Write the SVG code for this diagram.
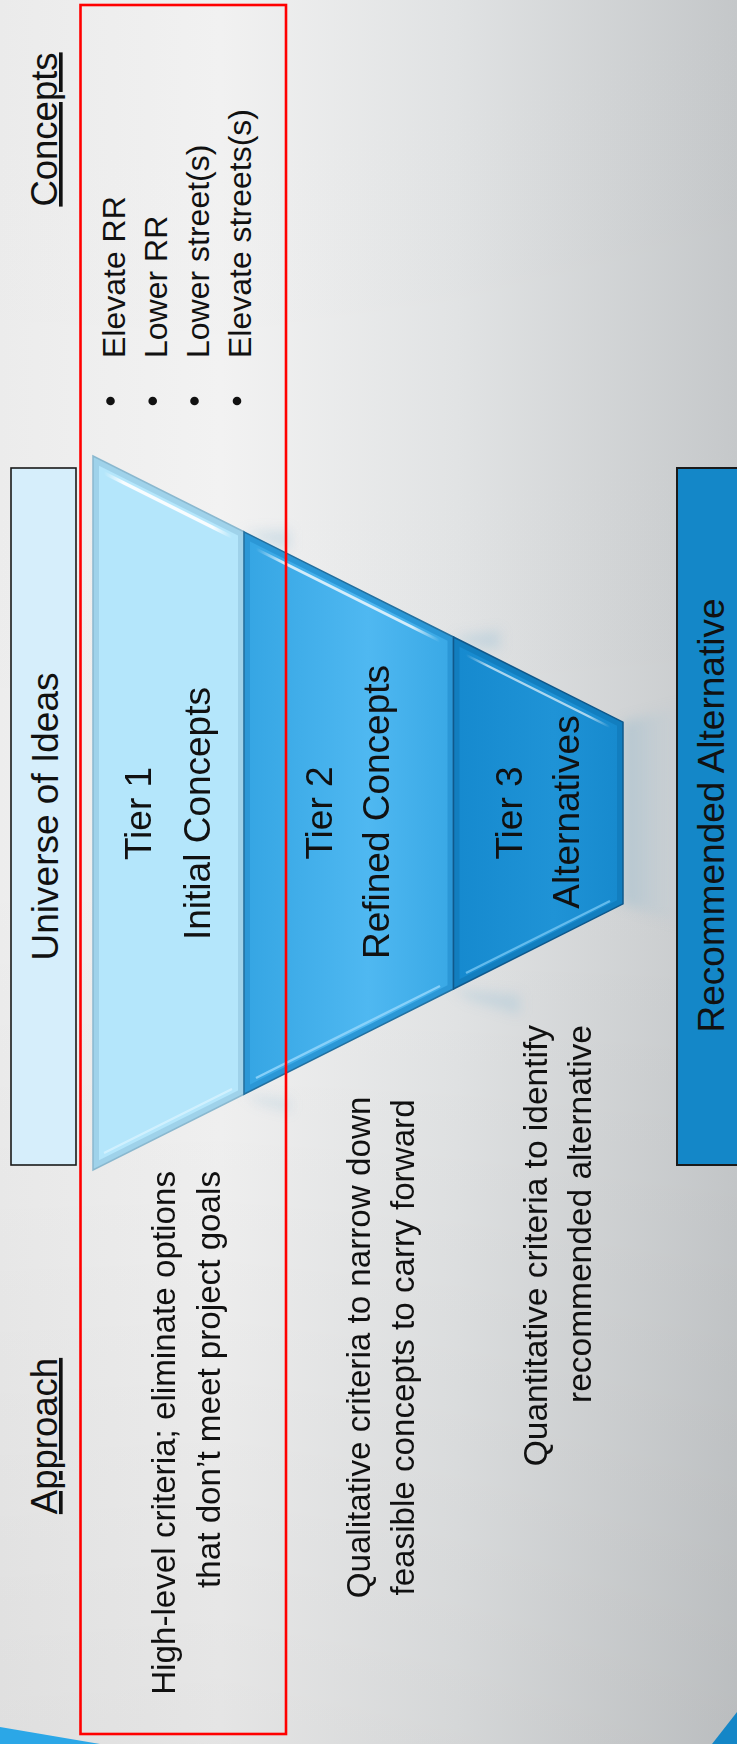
<svg xmlns="http://www.w3.org/2000/svg" width="737" height="1744" viewBox="0 0 737 1744">
<style>
text{font-family:"Liberation Sans",Arial,sans-serif;fill:#111}
.hdr{font-size:36.5px;text-decoration:underline}
.box{font-size:37px}
.tier{font-size:37px}
.bul{font-size:32px}
.app{font-size:33.2px}
.app2{font-size:33.5px}
</style>
<defs>
<linearGradient id="bgH" x1="0" y1="0" x2="737" y2="0" gradientUnits="userSpaceOnUse">
<stop offset="0" stop-color="#ededed"/>
<stop offset="0.3" stop-color="#f3f3f3"/>
<stop offset="0.62" stop-color="#e2e4e5"/>
<stop offset="1" stop-color="#c6c9cb"/>
</linearGradient>
<linearGradient id="bgV" x1="0" y1="0" x2="0" y2="1744" gradientUnits="userSpaceOnUse">
<stop offset="0" stop-color="#000" stop-opacity="0.01"/>
<stop offset="0.5" stop-color="#000" stop-opacity="0"/>
<stop offset="1" stop-color="#000" stop-opacity="0.06"/>
</linearGradient>
<linearGradient id="t2g" x1="0" y1="0" x2="1" y2="0">
<stop offset="0" stop-color="#36a6e4"/>
<stop offset="0.6" stop-color="#4fb8f1"/>
<stop offset="1" stop-color="#3aa9e6"/>
</linearGradient>
<linearGradient id="t3g" x1="0" y1="0" x2="1" y2="0">
<stop offset="0" stop-color="#168acf"/>
<stop offset="0.6" stop-color="#1f93d6"/>
<stop offset="1" stop-color="#178ace"/>
</linearGradient>
<linearGradient id="hl" x1="0" y1="0" x2="1" y2="0">
<stop offset="0" stop-color="#fff" stop-opacity="0"/>
<stop offset="0.15" stop-color="#fff" stop-opacity="0.9"/>
<stop offset="0.85" stop-color="#fff" stop-opacity="0.9"/>
<stop offset="1" stop-color="#fff" stop-opacity="0"/>
</linearGradient>
<linearGradient id="haze" x1="0" y1="0" x2="1" y2="0">
<stop offset="0" stop-color="#8fb6cc" stop-opacity="0.45"/>
<stop offset="1" stop-color="#c9d3d8" stop-opacity="0"/>
</linearGradient>
<filter id="blur" x="-50%" y="-50%" width="200%" height="200%"><feGaussianBlur stdDeviation="6"/></filter>
</defs>

<g id="background">
<rect x="0" y="0" width="737" height="1744" fill="url(#bgH)"/>
<rect x="0" y="0" width="737" height="1744" fill="url(#bgV)"/>
<polygon points="0,1727 100,1744 0,1744" fill="#2ba7e7"/>
<polygon points="737,1712 712,1744 737,1744" fill="#1486c7"/>
</g>

<g id="shadows" filter="url(#blur)">
<polygon points="623,722 700,700 700,930 623,904" fill="url(#haze)"/>
<polygon points="453,637 500,630 500,650 470,646" fill="#9fc3d6" opacity="0.4"/>
<polygon points="453,989 520,995 520,1015 470,1000" fill="#9fc3d6" opacity="0.35"/>
<polygon points="244,532 290,530 290,552 260,540" fill="#9fc3d6" opacity="0.35"/>
<polygon points="244,1094 290,1100 290,1112 260,1104" fill="#9fc3d6" opacity="0.3"/>
</g>

<g id="tier1">
<polygon points="93,456 244,531.8 244,1094.2 93,1170" fill="#9fd2ea" stroke="#8ab8cf" stroke-width="1.5"/>
<polygon points="99,465.7 238,535.5 238,1090.5 99,1160.3" fill="#b4e6fb"/>
<line x1="104" y1="473" x2="232" y2="537" stroke="url(#hl)" stroke-width="3.5" stroke-linecap="round"/>
<line x1="104" y1="1153" x2="232" y2="1089" stroke="#d8f3ff" stroke-width="2" opacity="0.8"/>
<text class="tier" transform="translate(151,813.5) rotate(-90)" text-anchor="middle">Tier 1</text>
<text class="tier" transform="translate(210,813.5) rotate(-90)" text-anchor="middle">Initial Concepts</text>
</g>

<g id="tier2">
<polygon points="244,531.8 453.5,637 453.5,989 244,1094.2" fill="#2b97d6" stroke="#23709f" stroke-width="1.5"/>
<polygon points="250,541.5 447.5,640.7 447.5,985.3 250,1084.5" fill="url(#t2g)"/>
<line x1="256" y1="549" x2="440" y2="641" stroke="url(#hl)" stroke-width="3" stroke-linecap="round" opacity="0.85"/>
<line x1="256" y1="1078" x2="440" y2="986" stroke="#8fd4fb" stroke-width="2.5" opacity="0.9"/>
<text class="tier" transform="translate(332,813) rotate(-90)" text-anchor="middle">Tier 2</text>
<text class="tier" transform="translate(388.5,812) rotate(-90)" text-anchor="middle">Refined Concepts</text>
</g>

<g id="tier3">
<polygon points="453.5,637 623,722.1 623,903.9 453.5,989" fill="#127ebf" stroke="#10598b" stroke-width="1.5"/>
<polygon points="459.5,646.7 617,725.7 617,900.3 459.5,979.3" fill="url(#t3g)"/>
<line x1="466" y1="655" x2="610" y2="727" stroke="url(#hl)" stroke-width="2.5" stroke-linecap="round" opacity="0.7"/>
<line x1="466" y1="973" x2="610" y2="901" stroke="#6cc0f0" stroke-width="2.5" opacity="0.9"/>
<text class="tier" transform="translate(522,813) rotate(-90)" text-anchor="middle">Tier 3</text>
<text class="tier" transform="translate(578.5,812) rotate(-90)" text-anchor="middle">Alternatives</text>
</g>

<g id="universe">
<rect x="11" y="468" width="65" height="697" fill="#d6eefb" stroke="#1a1a1a" stroke-width="1.6"/>
<text class="box" transform="translate(57.5,816.5) rotate(-90)" text-anchor="middle">Universe of Ideas</text>
</g>

<g id="recommended">
<rect x="677" y="468" width="70" height="697" fill="#1487c8" stroke="#1a1a1a" stroke-width="2"/>
<text class="box" transform="translate(724,815.5) rotate(-90)" text-anchor="middle">Recommended Alternative</text>
</g>

<g id="concepts">
<text class="hdr" transform="translate(57,129.5) rotate(-90)" text-anchor="middle">Concepts</text>
<circle cx="110.5" cy="401" r="4.3" fill="#111"/>
<circle cx="152.7" cy="401" r="4.3" fill="#111"/>
<circle cx="194.5" cy="401" r="4.3" fill="#111"/>
<circle cx="237" cy="401" r="4.3" fill="#111"/>
<text class="bul" transform="translate(124.5,358) rotate(-90)">Elevate RR</text>
<text class="bul" transform="translate(166.5,358) rotate(-90)">Lower RR</text>
<text class="bul" transform="translate(208.8,358) rotate(-90)">Lower street(s)</text>
<text class="bul" transform="translate(251,358) rotate(-90)">Elevate streets(s)</text>
</g>

<g id="approach">
<text class="hdr" transform="translate(57,1436) rotate(-90)" text-anchor="middle">Approach</text>
<text class="app" transform="translate(174.5,1171) rotate(-90)" text-anchor="end">High-level criteria; eliminate options</text>
<text class="app" transform="translate(219.5,1171) rotate(-90)" text-anchor="end">that don’t meet project goals</text>
<text class="app" transform="translate(370,1347.5) rotate(-90)" text-anchor="middle">Qualitative criteria to narrow down</text>
<text class="app" transform="translate(413.5,1347.5) rotate(-90)" text-anchor="middle">feasible concepts to carry forward</text>
<text class="app2" transform="translate(547,1025) rotate(-90)" text-anchor="end">Quantitative criteria to identify</text>
<text class="app2" transform="translate(591,1025) rotate(-90)" text-anchor="end">recommended alternative</text>
</g>

<g id="highlight-box">
<rect x="80.5" y="5" width="205.5" height="1729" fill="none" stroke="#ff0000" stroke-width="2.6"/>
</g>
</svg>
